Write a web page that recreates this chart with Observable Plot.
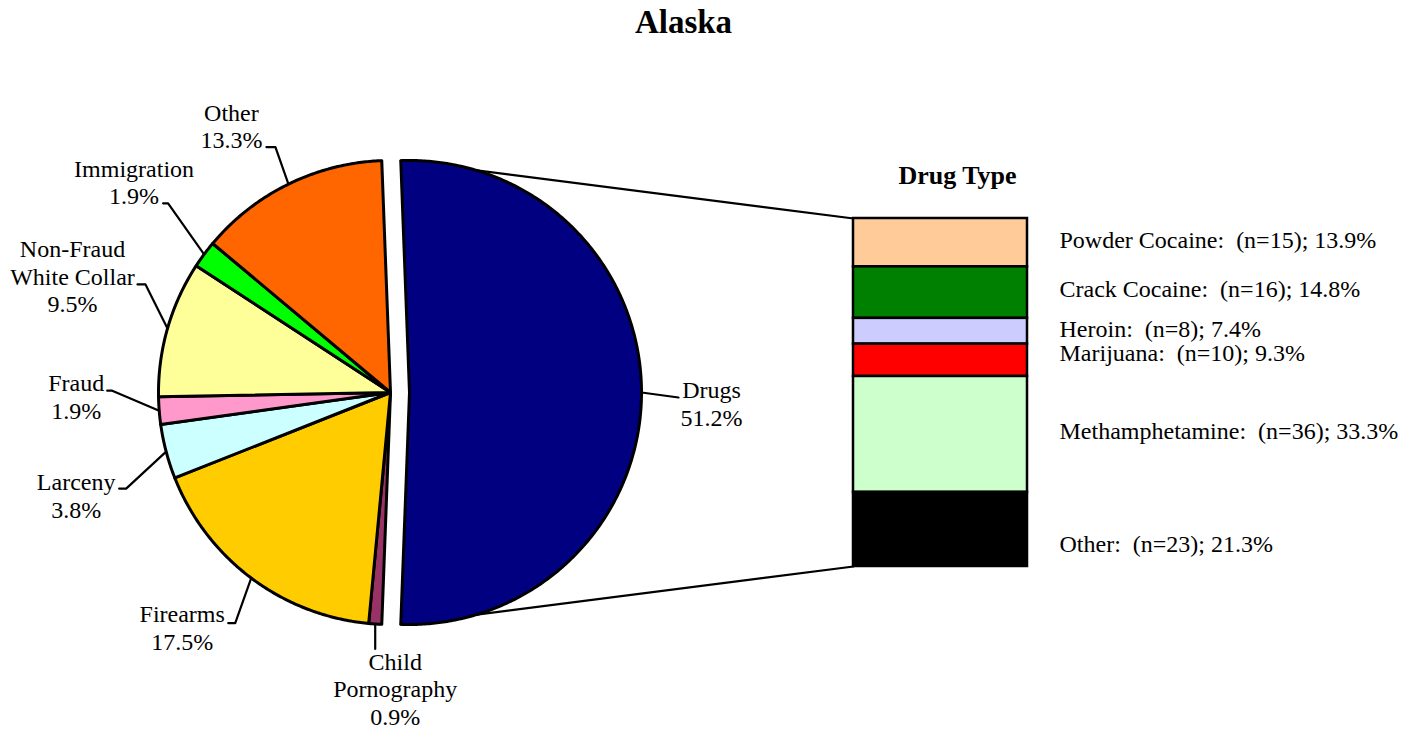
<!DOCTYPE html>
<html><head><meta charset="utf-8">
<script src="https://cdn.jsdelivr.net/npm/d3@7"></script>
<script src="https://cdn.jsdelivr.net/npm/@observablehq/plot@0.6"></script>
<style>
body{margin:0;background:#fff;font-family:"Liberation Serif","Times New Roman",serif;}
#title{width:1367px;height:44px;line-height:44px;text-align:center;font-weight:bold;font-size:33px;color:#000;}
#wrap{position:relative;width:1411px;height:687px;}
#wrap svg{position:absolute;left:0;top:0;overflow:visible;}
</style></head><body>
<div id="title">Alaska</div>
<div id="wrap"></div>
<script>
// ---------- data ----------
const offenseCategories = ["Drugs","Child Pornography","Firearms","Larceny","Fraud","Non-Fraud White Collar","Immigration","Other"];
const offenseLabels = ["Drugs","Child\nPornography","Firearms","Larceny","Fraud","Non-Fraud\nWhite Collar","Immigration","Other"];
const offensePercents = [51.2,0.9,17.5,3.8,1.9,9.5,1.9,13.3];
const offenseColors = ["#000080","#993366","#FFCC00","#CCFFFF","#FF99CC","#FFFF99","#00FF00","#FF6600"];

const drugTypes = ["Powder Cocaine","Crack Cocaine","Heroin","Marijuana","Methamphetamine","Other"];
const drugCounts = [15,16,8,10,36,23];
const drugPercents = [13.9,14.8,7.4,9.3,33.3,21.3];
const drugColors = ["#FFCC99","#008000","#CCCCFF","#FF0000","#CCFFCC","#000000"];

// ---------- layout ----------
const W = 1411, TOP = 44, H = 731 - TOP;
const FONT = '"Liberation Serif","Times New Roman",serif';
const FS = 24;
const pie = {cx: 390, cy: 392, r: 232, explode: 19};
const bar = {x0: 853, x1: 1027, y0: 218, y1: 566};
// offsets relative to the slice's edge point at its mid-angle
const labelLayout = {
  "Drugs":                  {text:[70,33],   kink:[37,5],    tail:[37,5]},
  "Child Pornography":      {text:[20,101],  kink:[0,25],    tail:[0,25]},
  "Firearms":               {text:[-69,72],  kink:[-16,45],  tail:[-23,45]},
  "Larceny":                {text:[-90,66],  kink:[-40,37],  tail:[-47,37]},
  "Fraud":                  {text:[-83,8],   kink:[-47,-20], tail:[-52,-20]},
  "Non-Fraud White Collar": {text:[-95,-16], kink:[-22,-44], tail:[-30,-44]},
  "Immigration":            {text:[-70,-50], kink:[-36,-51], tail:[-41,-51]},
  "Other":                  {text:[-57,-36], kink:[-13,-37], tail:[-22,-37]}
};
const drugLabelShift = [5.8, 3.9, 5.3, 0.2, 4.1, 22.1]; // px

// ---------- pie geometry ----------
const rad = Math.PI / 180;
const startDeg = 90 - offensePercents[0] * 3.6 / 2;
let acc = startDeg;
const slices = offenseCategories.map((name, i) => {
  const a0 = acc, a1 = acc + offensePercents[i] * 3.6; acc = a1;
  const mid = (a0 + a1) / 2;
  const off = i === 0 ? pie.explode : 0;
  const ox = pie.cx + off * Math.sin(mid * rad), oy = pie.cy - off * Math.cos(mid * rad);
  const pt = a => ({x: ox + pie.r * Math.sin(a * rad), y: oy - pie.r * Math.cos(a * rad)});
  return {name, i, a0, a1, mid, ox, oy, pt, fill: offenseColors[i]};
});
const piePts = slices.flatMap(s => {
  const pts = [{name: s.name, fill: s.fill, x: s.ox, y: s.oy}];
  const n = Math.max(2, Math.ceil((s.a1 - s.a0) / 0.5));
  for (let k = 0; k <= n; k++) {
    const p = s.pt(s.a0 + (s.a1 - s.a0) * k / n);
    pts.push({name: s.name, fill: s.fill, ...p});
  }
  return pts;
});
const fmt = d3.format(".1f");
const leaderPts = [], labelRows = [];
slices.forEach(s => {
  const E = s.pt(s.mid), L = labelLayout[s.name];
  leaderPts.push({name: s.name, x: E.x, y: E.y},
                 {name: s.name, x: E.x + L.kink[0], y: E.y + L.kink[1]},
                 {name: s.name, x: E.x + L.tail[0], y: E.y + L.tail[1]});
  labelRows.push({x: E.x + L.text[0], y: E.y + L.text[1], text: offenseLabels[s.i] + "\n" + fmt(offensePercents[s.i]) + "%"});
});
const dr = slices[0];
const c0 = dr.pt(dr.a0), c1 = dr.pt(dr.a1);
const connectors = [
  {id: "top", x: c0.x, y: c0.y}, {id: "top", x: bar.x0, y: bar.y0},
  {id: "bot", x: c1.x, y: c1.y}, {id: "bot", x: bar.x0, y: bar.y1}
];

const main = Plot.plot({
  width: W, height: H, margin: 0,
  x: {domain: [0, W], range: [0, W], axis: null},
  y: {domain: [TOP, TOP + H], range: [0, H], axis: null},
  color: {type: "identity"},
  style: {fontFamily: FONT, background: "transparent", overflow: "visible"},
  marks: [
    Plot.line(connectors, {x: "x", y: "y", z: "id", stroke: "black", strokeWidth: 2.2}),
    Plot.line(piePts, {x: "x", y: "y", z: "name", fill: "fill", stroke: "black", strokeWidth: 3, curve: "linear-closed", strokeLinejoin: "round"}),
    Plot.line(leaderPts, {x: "x", y: "y", z: "name", stroke: "black", strokeWidth: 2.2}),
    Plot.text(labelRows, {x: "x", y: "y", text: "text", fontSize: FS, lineAnchor: "bottom", lineHeight: 1.15, textAnchor: "middle", fill: "black"})
  ]
});

// ---------- drug-type stacked bar ----------
let cum = 0;
const drugRows = drugTypes.map((t, i) => {
  const y1 = cum, y2 = cum + drugPercents[i]; cum = y2;
  return {type: t, y1, y2, mid: (y1 + y2) / 2, fill: drugColors[i], shift: drugLabelShift[i],
          label: `${t}:\u00a0 (n=${drugCounts[i]}); ${fmt(drugPercents[i])}%`};
});
const pxPerUnit = (bar.y1 - bar.y0) / 100;
const barPlot = Plot.plot({
  width: W, height: H,
  marginLeft: bar.x0, marginRight: W - bar.x1, marginTop: bar.y0 - TOP, marginBottom: TOP + H - bar.y1,
  y: {domain: [0, 100], range: [bar.y0 - TOP, bar.y1 - TOP], axis: null},
  color: {type: "identity"},
  style: {fontFamily: FONT, background: "transparent", overflow: "visible"},
  marks: [
    Plot.barY(drugRows, {y1: "y1", y2: "y2", fill: "fill", stroke: "black", strokeWidth: 2.5}),
    Plot.text(drugRows, {y: d => d.mid + d.shift / pxPerUnit, text: "label", frameAnchor: "right", textAnchor: "start", dx: 32, lineAnchor: "bottom", fontSize: FS, fill: "black"}),
    Plot.text(["Drug Type"], {text: d => d, frameAnchor: "top", dx: 17, dy: -35, lineAnchor: "bottom", fontSize: 26, fontWeight: "bold", fill: "black"})
  ]
});

const wrap = document.getElementById("wrap");
wrap.appendChild(main);
wrap.appendChild(barPlot);
</script>
</body></html>
